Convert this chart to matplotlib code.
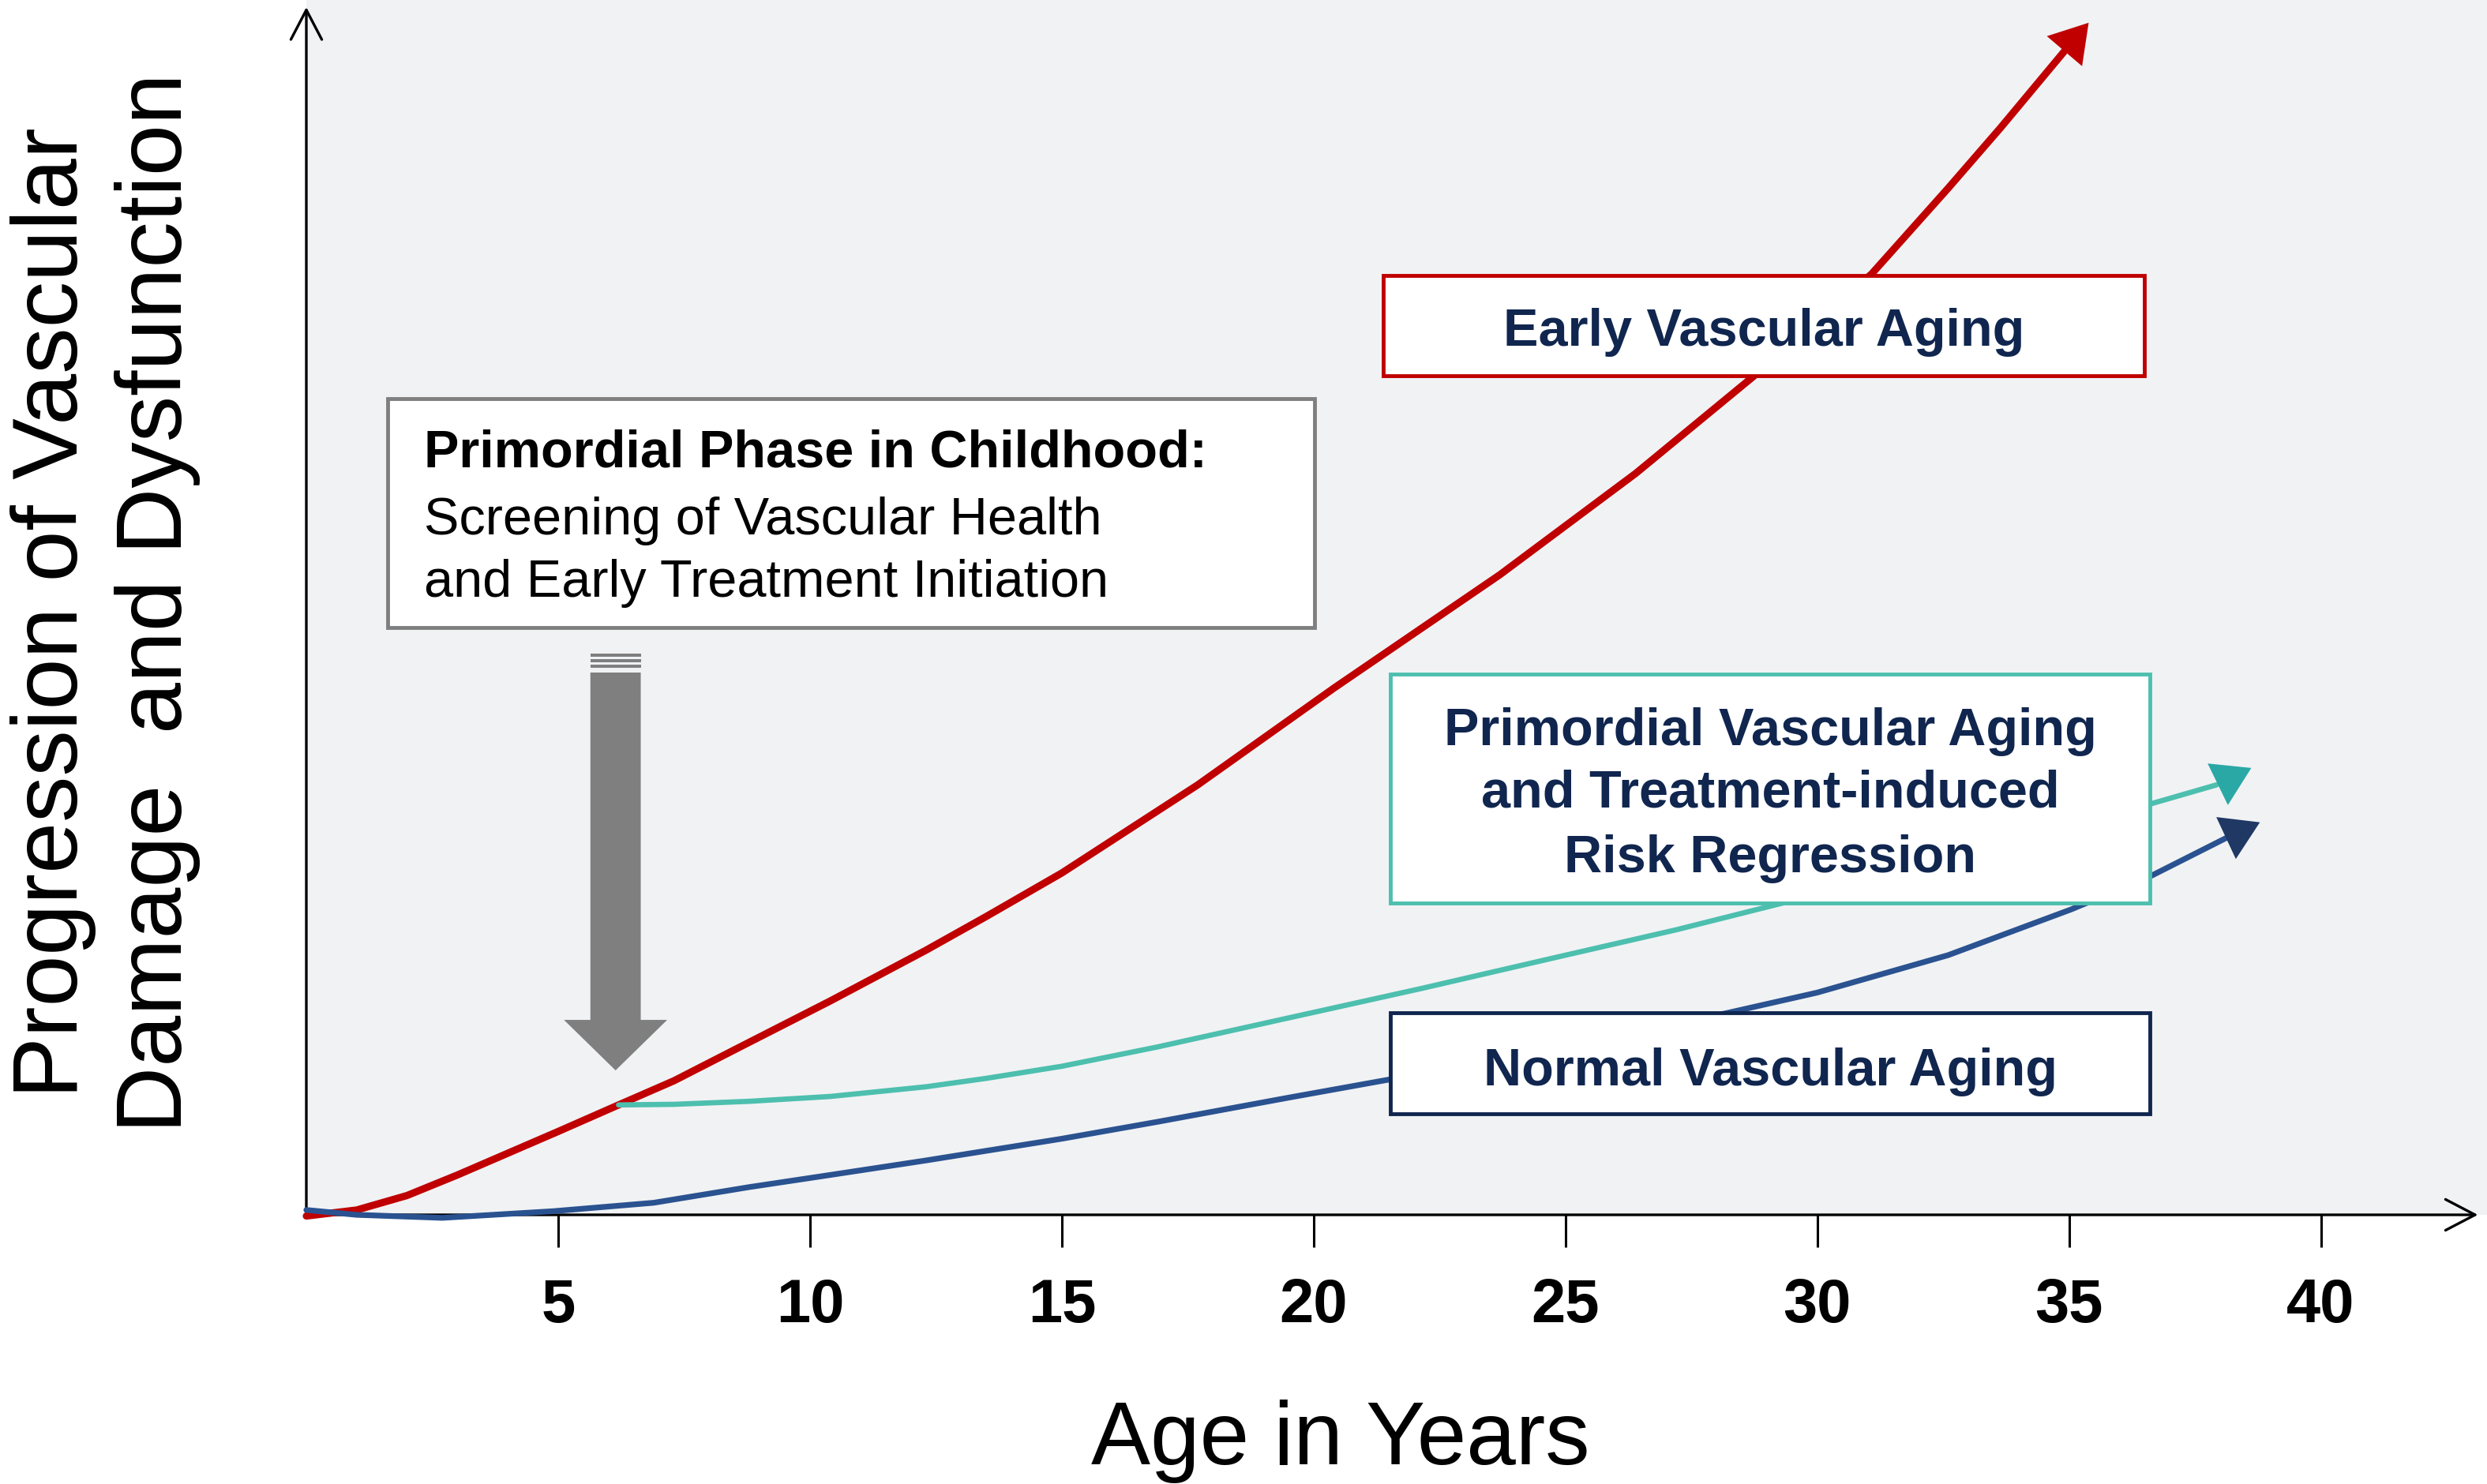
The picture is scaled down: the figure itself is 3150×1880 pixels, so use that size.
import matplotlib
matplotlib.use("Agg")
import matplotlib.pyplot as plt
from matplotlib.patches import Rectangle, FancyArrow

plt.rcParams['font.family'] = ['Liberation Sans', 'DejaVu Sans']

# ---- data (x = age in years, y = arbitrary progression units 0..100) ----
# last point of each curve = base of its arrowhead, *_tip = arrow tip
early_x = [0, 1.0, 2.0, 3.0, 4.0, 5.0, 6.2, 7.3, 8.8, 10.4, 12.3, 13.5, 15.0,
           17.7, 20.4, 23.7, 26.4, 28.7, 31.08, 32.6, 33.64, 34.9]
early_y = [-0.1, 0.4, 1.6, 3.3, 5.1, 6.9, 9.1, 11.1, 14.3, 17.7, 21.9, 24.7, 28.3,
           35.6, 43.6, 53.0, 61.4, 69.3, 77.9, 85.0, 90.0, 96.3]
early_tip = (35.39, 98.7)

primordial_x = [6.2, 7.3, 8.8, 10.4, 12.3, 13.5, 15.0, 16.9, 19.5, 22.15, 24.9,
                27.2, 29.3, 33.0, 36.6, 37.93]
primordial_y = [9.1, 9.15, 9.4, 9.8, 10.6, 11.3, 12.3, 13.9, 16.3, 18.75, 21.4,
                23.6, 25.8, 29.9, 34.0, 35.6]
primordial_tip = (38.62, 37.0)

normal_x = [0, 1.0, 2.7, 4.9, 6.9, 8.8, 10.4, 12.3, 13.5, 15.0, 16.9, 19.5,
            21.5, 24.8, 28.2, 30.0, 32.6, 35.05, 36.6, 38.12]
normal_y = [0.4, 0.0, -0.25, 0.3, 1.0, 2.3, 3.3, 4.5, 5.3, 6.3, 7.7, 9.7,
            11.2, 13.8, 16.7, 18.4, 21.5, 25.3, 28.0, 31.2]
normal_tip = (38.79, 32.5)

xticks = [5, 10, 15, 20, 25, 30, 35, 40]

RED = '#c00000'
TEAL = '#4dbfae'
TEAL_HEAD = '#2aa8a6'
BLUE = '#2a5290'
BLUE_HEAD = '#1f3864'
NAVY = '#10264f'
GRAY = '#7f7f7f'
BG = '#f1f2f4'

fig = plt.figure(figsize=(31.5, 18.81), dpi=100)
ax = fig.add_axes([388 / 3150, 341 / 1881, 2762 / 3150, 1540 / 1881])
ax.set_facecolor(BG)
ax.set_xlim(0, 43.3)
ax.set_ylim(0, 100.65)
for s in ax.spines.values():
    s.set_visible(False)

# axes with open arrowheads
axis_arrow = dict(arrowstyle='->,head_length=0.9,head_width=0.47', lw=2.4,
                  color='black', shrinkA=0, shrinkB=0, mutation_scale=30)
ax.annotate('', xy=(0, 100.0), xytext=(0, 0), arrowprops=axis_arrow,
            annotation_clip=False, zorder=2)
ax.annotate('', xy=(43.12, 0), xytext=(0, 0), arrowprops=axis_arrow,
            annotation_clip=False, zorder=2)

ax.set_xticks(xticks)
ax.set_xticklabels([str(t) for t in xticks], fontsize=56, fontweight='bold')
ax.set_yticks([])
ax.tick_params(axis='x', direction='out', length=29.5, width=2.2, pad=27)


def curve(xs, ys, tip, color, head_color, lw):
    ax.plot(xs, ys, color=color, lw=lw, solid_capstyle='round',
            solid_joinstyle='round', zorder=3, clip_on=False)
    ax.annotate('', xy=tip, xytext=(xs[-1], ys[-1]),
                arrowprops=dict(arrowstyle='-|>,head_length=1.0,head_width=0.62',
                                color=head_color, lw=0, shrinkA=0, shrinkB=0,
                                mutation_scale=34),
                zorder=3)


curve(early_x, early_y, early_tip, RED, RED, 6.6)
curve(normal_x, normal_y, normal_tip, BLUE, BLUE_HEAD, 5.2)
curve(primordial_x, primordial_y, primordial_tip, TEAL, TEAL_HEAD, 4.8)


def box(x0, x1, y0, y1, edge):
    ax.add_patch(Rectangle((x0, y0), x1 - x0, y1 - y0, facecolor='white',
                           edgecolor=edge, lw=3.5, zorder=5))


# Primordial phase box
box(1.61, 20.02, 48.6, 67.6, GRAY)
ax.text(2.34, 61.96, 'Primordial Phase in Childhood:', fontsize=48,
        fontweight='bold', color='black', va='baseline', ha='left', zorder=6)
ax.text(2.34, 56.4, 'Screening of Vascular Health', fontsize=48,
        color='black', va='baseline', ha='left', zorder=6)
ax.text(2.34, 51.24, 'and Early Treatment Initiation', fontsize=48,
        color='black', va='baseline', ha='left', zorder=6)

# gray arrow pointing down to the branch point
ax.add_patch(FancyArrow(6.14, 44.9, 0, 11.96 - 44.9, width=1.0, head_width=2.05,
                        head_length=4.18, length_includes_head=True,
                        color=GRAY, lw=0, zorder=4))
for y0, y1 in [(45.3, 45.55), (45.75, 46.0), (46.2, 46.45)]:
    ax.add_patch(Rectangle((5.64, y0), 1.0, y1 - y0, facecolor=GRAY, lw=0, zorder=4))

# Early vascular aging box
box(21.39, 36.5, 69.5, 77.8, RED)
ax.text((21.39 + 36.5) / 2, 72.0, 'Early Vascular Aging', fontsize=48,
        fontweight='bold', color=NAVY, ha='center', va='baseline', zorder=6)

# Primordial vascular aging box
box(21.52, 36.61, 25.8, 44.8, TEAL)
for yb, line in zip([38.95, 33.8, 28.4],
                    ['Primordial Vascular Aging', 'and Treatment-induced',
                     'Risk Regression']):
    ax.text((21.52 + 36.61) / 2, yb, line, fontsize=48, fontweight='bold',
            color=NAVY, ha='center', va='baseline', zorder=6)

# Normal vascular aging box
box(21.52, 36.61, 8.37, 16.73, NAVY)
ax.text((21.52 + 36.61) / 2, 10.8, 'Normal Vascular Aging', fontsize=48,
        fontweight='bold', color=NAVY, ha='center', va='baseline', zorder=6)

# axis titles
fig.text(1698 / 3150, (1881 - 1855) / 1881, 'Age in Years', fontsize=81,
         ha='center', va='baseline')
fig.text(98 / 3150, (1881 - 776) / 1881, 'Progression of Vascular', fontsize=84,
         rotation=90, rotation_mode='anchor', ha='center', va='baseline')
fig.text(230 / 3150, (1881 - 764) / 1881, 'Damage  and Dysfunction', fontsize=84,
         rotation=90, rotation_mode='anchor', ha='center', va='baseline')

fig.savefig('out.png', dpi=100, facecolor='white')
